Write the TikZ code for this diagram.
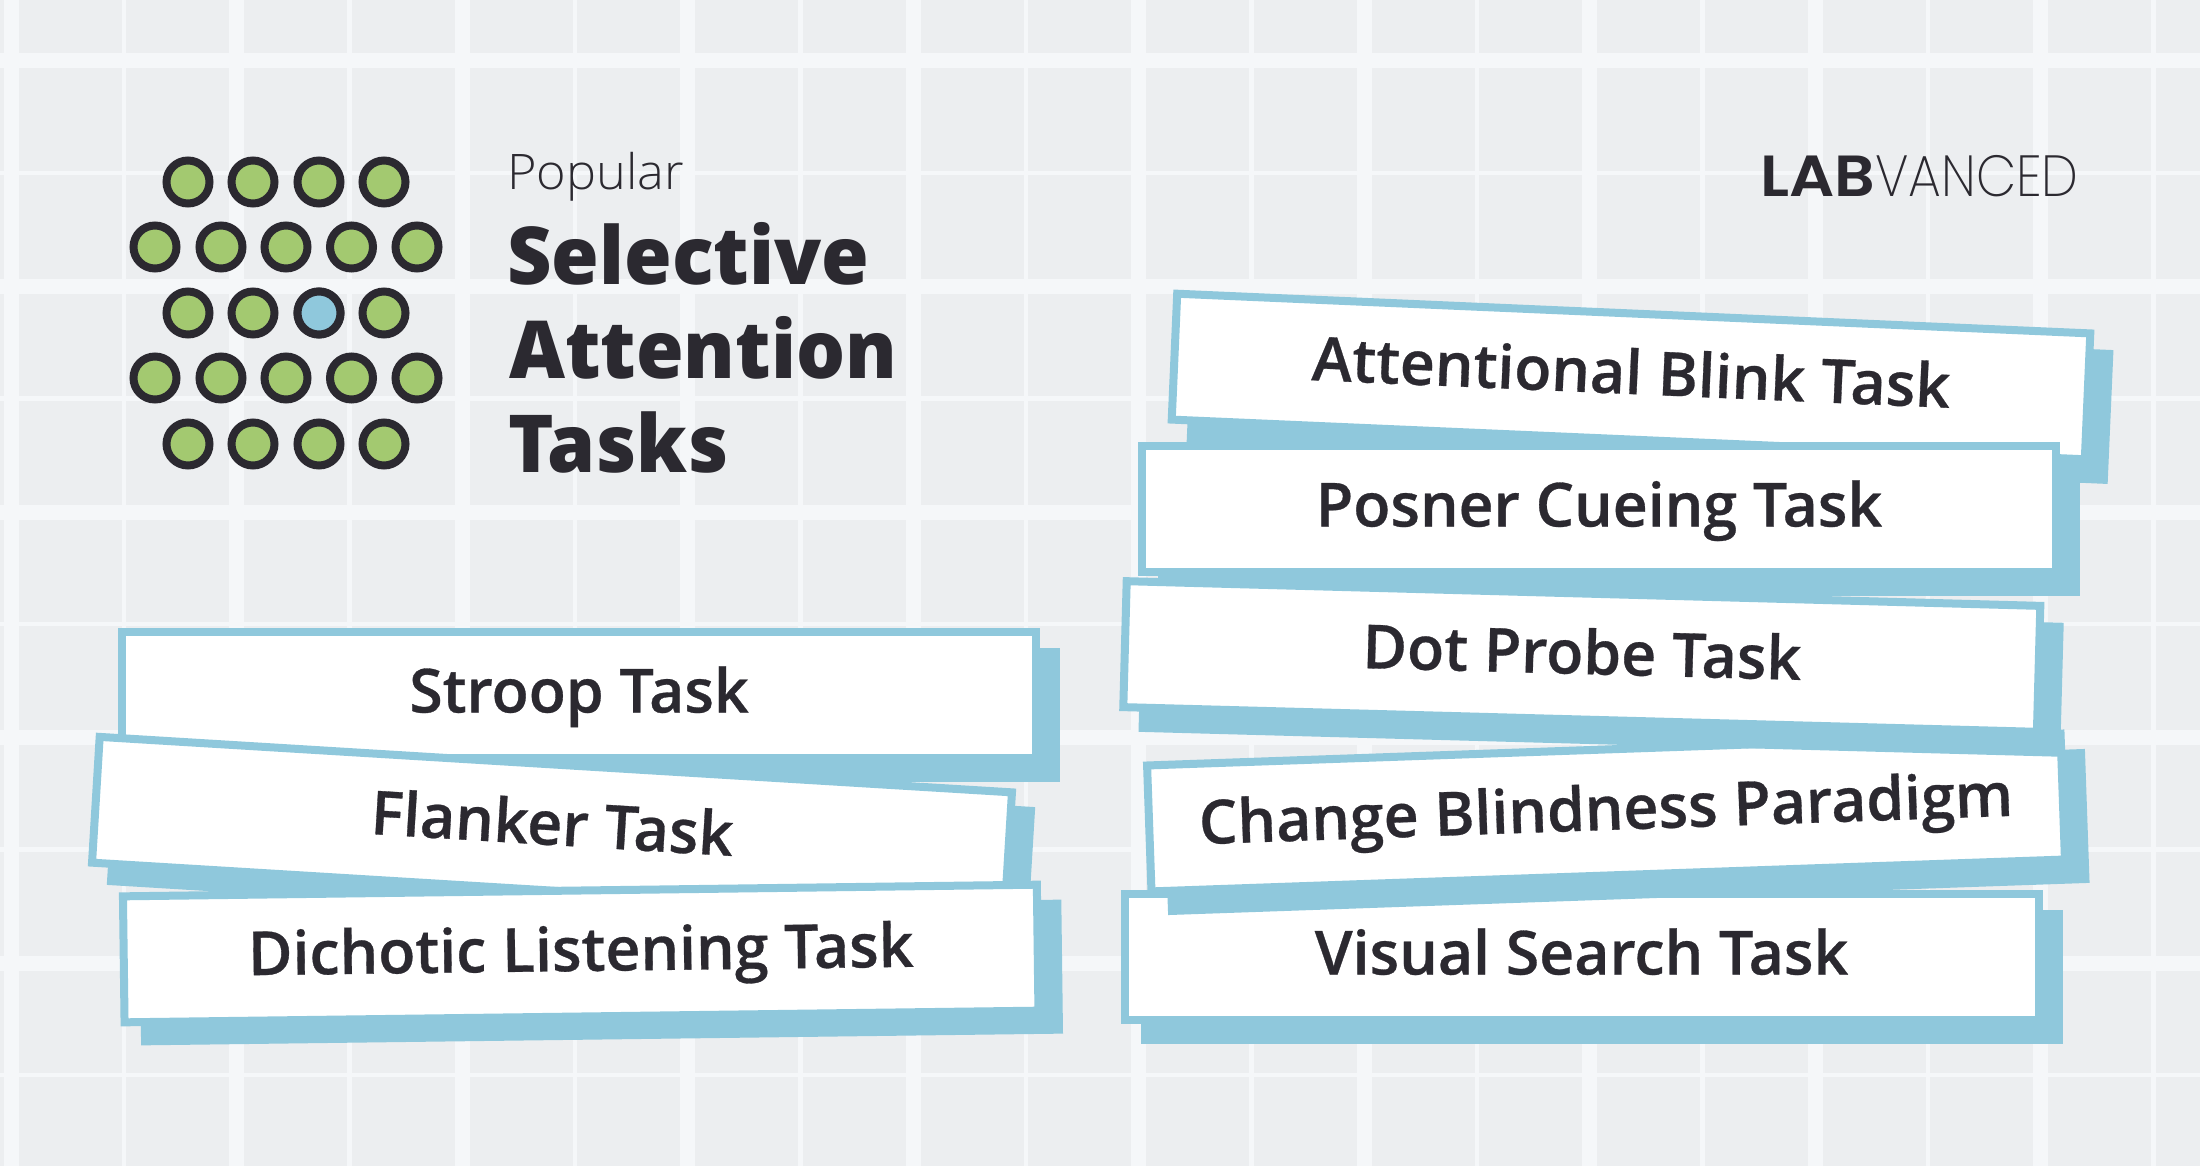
\documentclass[tikz,border=0pt]{standalone}
\usepackage{fontspec}
\setmainfont{Open Sans}
\newfontfamily\cardfont[FakeBold=0.5]{Open Sans Semibold}
\newfontfamily\popfont[FakeStretch=1.03]{Open Sans Light}
\IfFontExistsTF{Open Sans Extrabold}{\newfontfamily\titlefont[FakeStretch=0.965]{Open Sans Extrabold}}{\newfontfamily\titlefont[FakeStretch=0.965]{Open Sans Bold}}
\newfontfamily\logobold[FakeStretch=1.09]{Poppins SemiBold}
\newfontfamily\logothin[FakeStretch=0.9]{Poppins ExtraLight}
\definecolor{bgc}{HTML}{ECEEF0}
\definecolor{gridc}{HTML}{F5F7F9}
\definecolor{ink}{HTML}{2B2930}
\definecolor{leaf}{HTML}{A3C970}
\definecolor{sky}{HTML}{8FC8DC}
\tikzset{
  cardface/.style={draw=sky,fill=white,line width=8pt,minimum width=914pt,minimum height=126pt,inner sep=0pt,
    text height=35pt,text depth=0pt,text=ink,font=\cardfont\fontsize{60.8}{60.8}\selectfont},
  cardshade/.style={fill=sky,minimum width=922pt,minimum height=134pt,inner sep=0pt},
  dot/.style={circle,draw=ink,line width=8pt,fill=leaf,minimum size=43pt,inner sep=0pt},
  thickline/.style={gridc,line width=15pt},
  thinline/.style={gridc,line width=4.5pt},
  titleline/.style={anchor=base west,inner sep=0pt,text=ink,font=\titlefont\fontsize{80}{80}\selectfont},
}
\newcommand{\card}[6]{%
  \node[cardshade,rotate=#4] (#1s) at (#2+#5,#3+#6) {};
  \cardtext{#1}{#2}{#3}{#4}}
\newcommand{\cardtext}[5]{\node[cardface,rotate=#4] (#1) at (#2,#3) {#5};}
\begin{document}
\begin{tikzpicture}[x=1pt,y=-1pt]
\useasboundingbox (0,0) rectangle (2200,1166);
\fill[bgc] (0,0) rectangle (2200,1166);
\foreach \i in {0,...,9}{
  \draw[thickline] ({11+225.5*\i},0) -- ({11+225.5*\i},1166);
  \draw[thinline] ({124+225.5*\i},0) -- ({124+225.5*\i},1166);
}
\foreach \i in {0,...,4}{
  \draw[thickline] (0,{61+225.5*\i}) -- (2200,{61+225.5*\i});
  \draw[thinline] (0,{173+225.5*\i}) -- (2200,{173+225.5*\i});
}
\foreach \r/\y in {1/182,3/313,5/444}{
  \foreach \c/\x in {1/188,2/253,3/319,4/384}{
    \node[dot] (d\r\c) at (\x,\y) {};
  }
}
\foreach \r/\y in {2/247,4/378}{
  \foreach \c/\x in {1/155,2/221,3/286,4/351.5,5/417}{
    \node[dot] (d\r\c) at (\x,\y) {};
  }
}
\node[dot,fill=sky] (dblue) at (319,313) {};
\node[titleline,font=\popfont\fontsize{49}{49}\selectfont] (pop) at (507,190) {Popular};
\node[titleline] (t1) at (507,284) {Selective};
\node[titleline] (t2) at (509,378) {Attention};
\node[titleline] (t3) at (508,472) {Tasks};
\node[anchor=base west,inner sep=0pt,text=ink] (logo) at (1760,197) {\fontsize{58}{58}\selectfont{\logobold LAB}{\logothin VANCED}};
\card{stroop}{579}{695}{0}{20}{20}{Stroop Task}
\card{flanker}{552}{827.5}{-3.48}{19}{18.5}{Flanker Task}
\card{dichotic}{580.7}{953.5}{0.73}{20.5}{19}{Dichotic Listening Task}
\card{blink}{1631}{376.5}{-2.49}{19}{20.5}{Attentional Blink Task}
\card{posner}{1599}{509}{0}{20}{20}{Posner Cueing Task}
\card{visual}{1581.5}{957}{0}{20}{20}{Visual Search Task}
\card{change}{1606}{812.5}{2}{20.5}{19.5}{Change Blindness Paradigm}
\card{probe}{1581.8}{656.5}{-1.55}{19.3}{20.8}{Dot Probe Task}
\end{tikzpicture}
\end{document}
